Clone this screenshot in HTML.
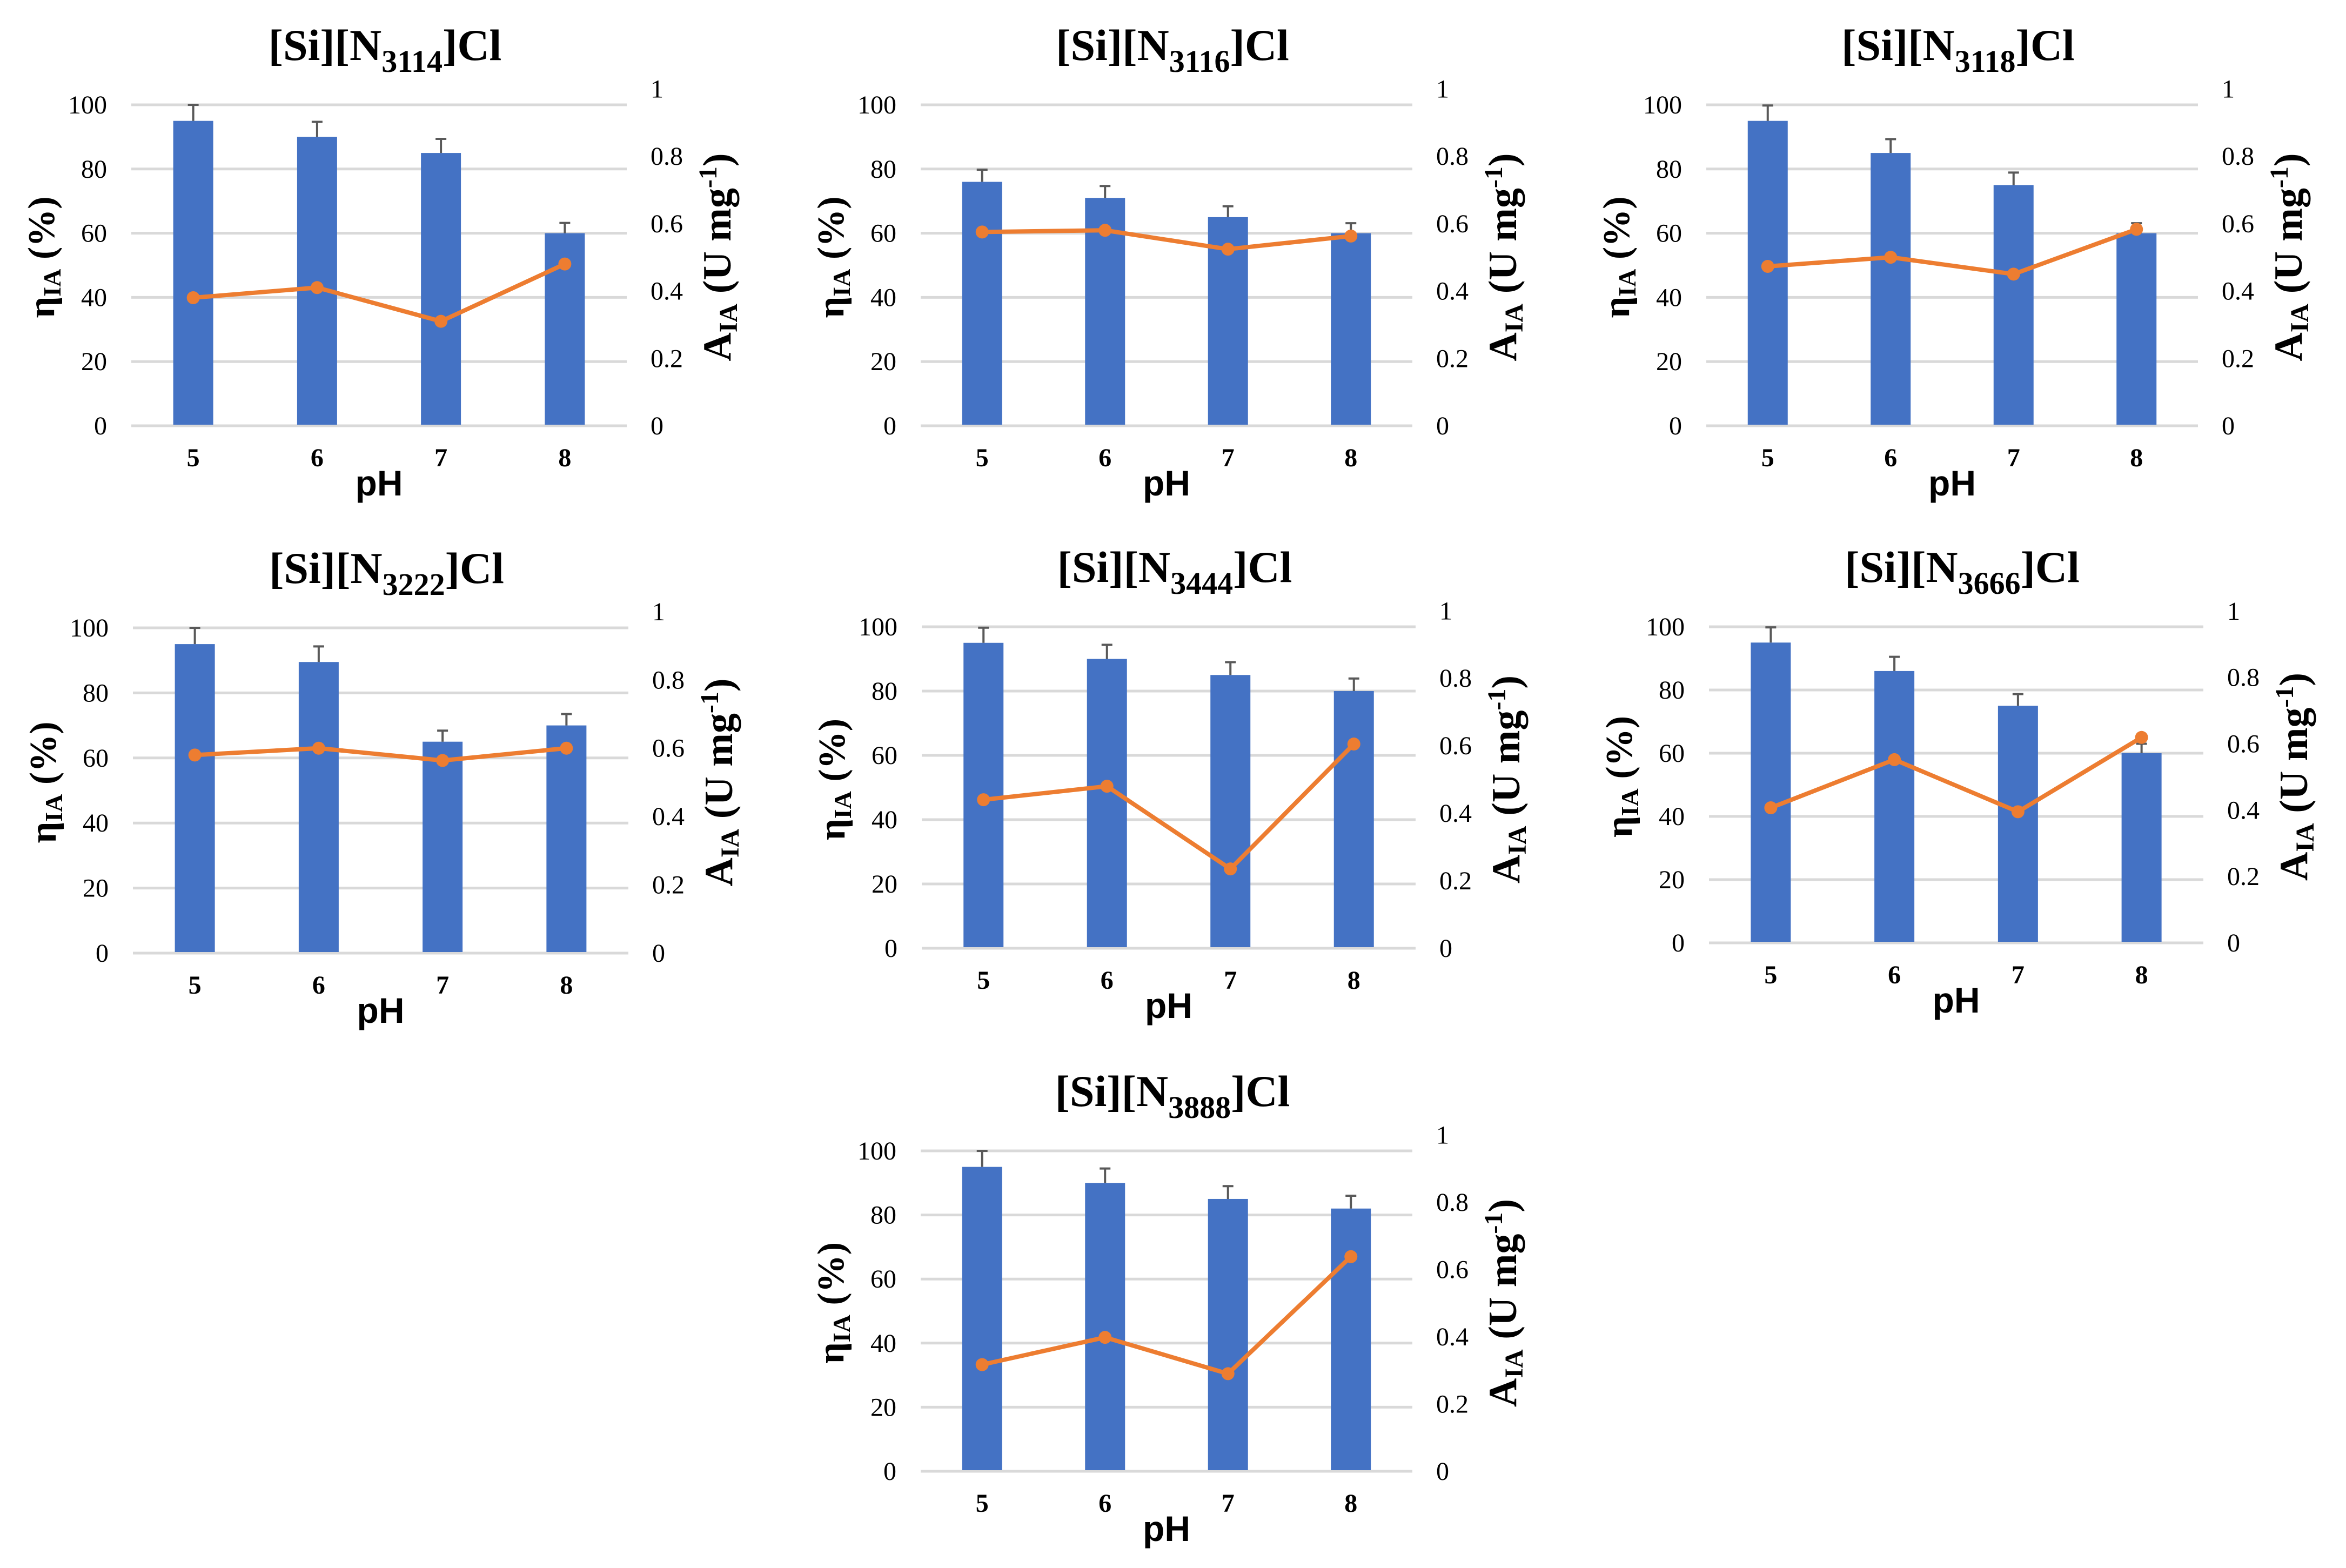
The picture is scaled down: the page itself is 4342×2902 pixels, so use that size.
<!DOCTYPE html>
<html><head><meta charset="utf-8">
<style>
html,body{margin:0;padding:0;background:#fff;}
svg{display:block;}
</style></head>
<body>
<svg id="chart" xmlns="http://www.w3.org/2000/svg" width="4342" height="2902" viewBox="0 0 4342 2902"></svg>
<script>
const categories = ["5","6","7","8"];
const leftTicks = [0,20,40,60,80,100];
const rightTicks = ["0","0.2","0.4","0.6","0.8","1"];
const rightTickVals = [0,0.2,0.4,0.6,0.8,1];
const labels = ["3114","3116","3118","3222","3444","3666","3888"];
const eta3114 = [95,90,85,60];
const err3114 = [5,4.7,4.4,3.2];
const act3114 = [0.38,0.41,0.31,0.48];
const eta3116 = [76,71,65,60];
const err3116 = [3.8,3.7,3.4,3.1];
const act3116 = [0.575,0.58,0.524,0.563];
const eta3118 = [95,85,75,60];
const err3118 = [4.8,4.3,3.9,3.1];
const act3118 = [0.473,0.50,0.45,0.583];
const eta3222 = [95,89.5,65,70];
const err3222 = [5,4.8,3.4,3.5];
const act3222 = [0.58,0.60,0.564,0.60];
const eta3444 = [95,90,85,80];
const err3444 = [4.7,4.4,4,3.9];
const act3444 = [0.44,0.48,0.235,0.605];
const eta3666 = [95,86,75,60];
const err3666 = [4.8,4.5,3.7,3];
const act3666 = [0.407,0.552,0.395,0.619];
const eta3888 = [95,90,85,82];
const err3888 = [5,4.5,4,4];
const act3888 = [0.317,0.398,0.29,0.638];

const etaSets=[eta3114,eta3116,eta3118,eta3222,eta3444,eta3666,eta3888];
const errSets=[err3114,err3116,err3118,err3222,err3444,err3666,err3888];
const actSets=[act3114,act3116,act3118,act3222,act3444,act3666,act3888];
// layout: [left, right, y of 100, y of 0]
const layout=[[243,1160,194,788],[1704,2614,194,788],[3158,4068,194,788],
[246,1163,1162,1764],[1706,2620,1160,1755],[3163,4078,1160,1745],[1704,2614,2130,2723]];

const NS="http://www.w3.org/2000/svg";
const svg=document.getElementById('chart');
function mk(tag,attrs,parent){const e=document.createElementNS(NS,tag);for(const k in attrs)e.setAttribute(k,attrs[k]);(parent||svg).appendChild(e);return e;}

layout.forEach((L,p)=>{
  const [x0,x1,yT,yB]=L;
  const g=mk('g',{});
  
  
  const h=yB-yT;
  const yL=v=>yB-v/100*h;
  const yR=v=>yB-v*1.05*h;
  const bw=(x1-x0)/categories.length;
  const xC=i=>x0+(i+0.5)*bw;
  // gridlines + left ticks
  leftTicks.forEach(t=>{
    const l=mk('line',{x1:x0,x2:x1,y1:yL(t),y2:yL(t),stroke:'#D9D9D9','stroke-width':5},g);
    
    
    const tx=mk('text',{x:x0-45,y:yL(t)+16,'text-anchor':'end','font-family':'Liberation Serif, serif','font-size':48,fill:'#000'},g);
    
    
    tx.textContent=t;
  });
  rightTickVals.forEach((t,i)=>{
    const tx=mk('text',{x:x1+44,y:yR(t)+16,'text-anchor':'start','font-family':'Liberation Serif, serif','font-size':48,fill:'#000'},g);
    
    
    tx.textContent=rightTicks[i];
  });
  // bars
  etaSets[p].forEach((v,i)=>{
    const r=mk('rect',{x:xC(i)-37,y:yL(v),width:74,height:yB-yL(v)-2,fill:'#4472C4'},g);
    
    
    const top=yL(v+errSets[p][i]);
    const e=mk('path',{d:`M${xC(i)} ${yL(v)} V${top} M${xC(i)-10} ${top} H${xC(i)+10}`,stroke:'#595959','stroke-width':4,fill:'none'},g);
    
    
  });
  // line
  const pts=actSets[p].map((v,i)=>xC(i)+','+yR(v)).join(' ');
  const pl=mk('polyline',{points:pts,fill:'none',stroke:'#ED7D31','stroke-width':8,'stroke-linejoin':'round'},g);
  
  
  actSets[p].forEach((v,i)=>{
    const c=mk('circle',{cx:xC(i),cy:yR(v),r:12,fill:'#ED7D31'},g);
    
    
  });
  // x tick labels
  categories.forEach((c,i)=>{
    const tx=mk('text',{x:xC(i),y:yB+75,'text-anchor':'middle','font-family':'Liberation Serif, serif','font-weight':'bold','font-size':48,fill:'#000'},g);
    
    
    tx.textContent=c;
  });
  const cx=(x0+x1)/2;
  const ph=mk('text',{x:cx,y:yB+129,'text-anchor':'middle','font-family':'Liberation Sans, sans-serif','font-weight':'bold','font-size':66,fill:'#000'},g);
  
  
  ph.textContent='pH';
  // title
  const ti=mk('text',{x:cx+11,y:yT-83,'text-anchor':'middle','font-family':'Liberation Serif, serif','font-weight':'bold','font-size':82,fill:'#000'},g);
  
  
  ti.innerHTML='[Si][N<tspan dy="22" font-size="58">'+labels[p]+'</tspan><tspan dy="-22">]Cl</tspan>';
  // left y title
  const my=(yT+yB)/2-15;
  const lt=mk('text',{x:0,y:0,transform:`translate(${x0-143},${my}) rotate(-90)`,'text-anchor':'middle','font-family':'Liberation Serif, serif','font-weight':'bold','font-size':70,fill:'#000'},g);
  
  
  lt.innerHTML='η<tspan dy="12" font-size="46">IA</tspan><tspan dy="-12"> (%)</tspan>';
  const rt=mk('text',{x:0,y:0,transform:`translate(${x1+192},${my}) rotate(-90)`,'text-anchor':'middle','font-family':'Liberation Serif, serif','font-weight':'bold','font-size':74,fill:'#000'},g);
  
  
  rt.innerHTML='A<tspan dy="12" font-size="48">IA</tspan><tspan dy="-12"> (U mg</tspan><tspan dy="-26" font-size="48">-1</tspan><tspan dy="26">)</tspan>';
});
</script>
</body></html>
